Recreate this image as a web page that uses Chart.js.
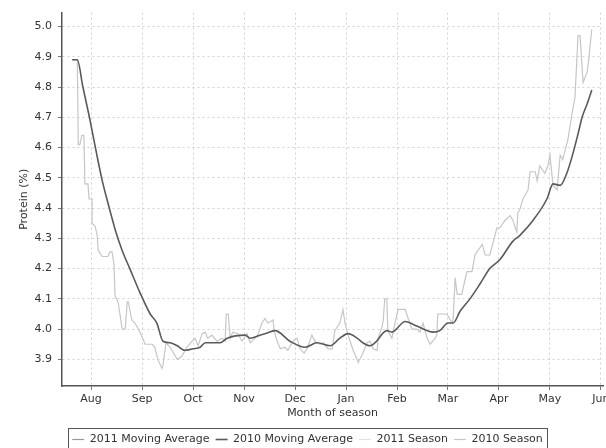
<!DOCTYPE html>
<html>
<head>
<meta charset="utf-8">
<script src="https://cdn.jsdelivr.net/npm/chart.js@4"></script>
<style>
    html, body { margin: 0; padding: 0; background: #fff; overflow: hidden; }
    #wrap { width: 620px; height: 455px; }
</style>
</head>
<body>
<div id="wrap"><canvas id="ProteinChart" width="620" height="455"></canvas></div>
<script>
// months counted from 1 Aug (Aug = 0 ... Jun = 10)
const monthLabels = ['Aug', 'Sep', 'Oct', 'Nov', 'Dec', 'Jan', 'Feb', 'Mar', 'Apr', 'May', 'Jun'];
const proteinTicks = [3.9, 4.0, 4.1, 4.2, 4.3, 4.4, 4.5, 4.6, 4.7, 4.8, 4.9, 5.0];

const avgMonths = [-0.37, -0.27, -0.16, -0.02, 0.12, 0.22, 0.31, 0.43, 0.47, 0.61, 0.76, 0.96, 1.16, 1.29, 1.41, 1.55, 1.69, 1.84, 2.00, 2.14, 2.24, 2.53, 2.67, 3.02, 3.12, 3.31, 3.41, 3.61, 3.90, 4.20, 4.43, 4.69, 4.88, 5.04, 5.22, 5.33, 5.47, 5.57, 5.80, 5.90, 6.16, 6.39, 6.71, 6.84, 7.00, 7.10, 7.24, 7.43, 7.63, 7.82, 8.02, 8.27, 8.41, 8.67, 8.94, 9.06, 9.20, 9.33, 9.45, 9.55, 9.63, 9.73, 9.82];
const avg2010 = [4.89, 4.89, 4.80, 4.69, 4.57, 4.49, 4.43, 4.355, 4.33, 4.26, 4.20, 4.12, 4.05, 4.02, 3.96, 3.955, 3.945, 3.93, 3.935, 3.94, 3.955, 3.955, 3.97, 3.98, 3.97, 3.98, 3.985, 3.995, 3.96, 3.94, 3.955, 3.945, 3.97, 3.985, 3.97, 3.955, 3.945, 3.955, 3.995, 3.99, 4.025, 4.01, 3.99, 3.995, 4.02, 4.02, 4.06, 4.10, 4.15, 4.20, 4.23, 4.29, 4.31, 4.36, 4.43, 4.48, 4.475, 4.515, 4.58, 4.645, 4.70, 4.745, 4.79];

const seasonMonths = [-0.37, -0.27, -0.25, -0.22, -0.18, -0.14, -0.12, -0.06, -0.04, 0.02, 0.02, 0.08, 0.12, 0.14, 0.22, 0.33, 0.37, 0.41, 0.45, 0.47, 0.53, 0.61, 0.67, 0.71, 0.73, 0.80, 0.86, 0.96, 1.06, 1.20, 1.25, 1.31, 1.39, 1.41, 1.47, 1.55, 1.69, 1.78, 1.88, 1.98, 2.04, 2.10, 2.18, 2.24, 2.29, 2.37, 2.47, 2.57, 2.63, 2.65, 2.69, 2.73, 2.78, 2.88, 2.96, 3.06, 3.12, 3.22, 3.27, 3.35, 3.41, 3.47, 3.57, 3.59, 3.65, 3.71, 3.80, 3.86, 3.96, 4.04, 4.10, 4.18, 4.25, 4.33, 4.39, 4.49, 4.55, 4.65, 4.73, 4.78, 4.88, 4.94, 4.98, 5.04, 5.14, 5.24, 5.33, 5.41, 5.47, 5.53, 5.61, 5.63, 5.71, 5.73, 5.76, 5.80, 5.82, 5.90, 5.96, 6.02, 6.16, 6.22, 6.29, 6.39, 6.45, 6.51, 6.59, 6.65, 6.75, 6.78, 6.80, 6.98, 7.08, 7.10, 7.14, 7.18, 7.27, 7.37, 7.47, 7.53, 7.67, 7.73, 7.82, 7.96, 8.02, 8.12, 8.22, 8.27, 8.35, 8.37, 8.41, 8.47, 8.57, 8.61, 8.71, 8.75, 8.80, 8.90, 8.96, 9.00, 9.06, 9.14, 9.20, 9.25, 9.35, 9.43, 9.49, 9.55, 9.59, 9.65, 9.73, 9.75, 9.82];
const season2010 = [4.89, 4.89, 4.61, 4.61, 4.64, 4.64, 4.48, 4.48, 4.43, 4.43, 4.35, 4.34, 4.31, 4.26, 4.24, 4.24, 4.255, 4.255, 4.215, 4.11, 4.09, 4.00, 4.00, 4.09, 4.09, 4.03, 4.02, 3.99, 3.95, 3.95, 3.94, 3.90, 3.87, 3.88, 3.955, 3.94, 3.90, 3.91, 3.94, 3.96, 3.97, 3.945, 3.985, 3.99, 3.97, 3.98, 3.96, 3.97, 3.96, 4.05, 4.05, 3.97, 3.99, 3.985, 3.96, 3.985, 3.955, 3.97, 3.98, 4.02, 4.035, 4.02, 4.03, 3.995, 3.96, 3.935, 3.94, 3.93, 3.96, 3.97, 3.935, 3.92, 3.94, 3.98, 3.96, 3.95, 3.955, 3.935, 3.935, 3.995, 4.02, 4.065, 4.02, 3.98, 3.93, 3.89, 3.92, 3.955, 3.96, 3.935, 3.93, 3.97, 4.01, 4.03, 4.10, 4.10, 3.995, 3.97, 4.02, 4.065, 4.065, 4.035, 4.00, 4.00, 3.99, 4.02, 3.97, 3.95, 3.97, 3.98, 4.05, 4.05, 4.02, 4.03, 4.17, 4.115, 4.115, 4.19, 4.19, 4.245, 4.28, 4.245, 4.245, 4.335, 4.335, 4.36, 4.375, 4.36, 4.32, 4.385, 4.395, 4.43, 4.46, 4.52, 4.52, 4.49, 4.54, 4.515, 4.54, 4.575, 4.475, 4.46, 4.575, 4.56, 4.625, 4.71, 4.765, 4.97, 4.97, 4.815, 4.85, 4.875, 4.99];

// 2011 series have no values yet, they only show in the legend
const avg2011 = [];
const season2011 = [];

const toPoints = (xs, ys) => ys.map((y, i) => ({ x: xs[i], y: y }));

Chart.defaults.font.family = "'DejaVu Sans', sans-serif";
Chart.defaults.font.size = 11;
Chart.defaults.color = '#333';

// box round the legend items
const legendBorder = {
    id: 'legendBorder',
    afterDraw(chart) {
        const lg = chart.legend;
        if (!lg || !lg.legendHitBoxes || !lg.legendHitBoxes.length) return;
        const boxes = lg.legendHitBoxes;
        const last = boxes[boxes.length - 1];
        const left = Math.round(boxes[0].left - 4);
        const right = Math.round(last.left + last.width + 4);
        const ctx = chart.ctx;
        ctx.save();
        ctx.strokeStyle = '#555';
        ctx.lineWidth = 1;
        ctx.strokeRect(left + 0.5, Math.round(lg.top) + 0.5, right - left, 40);
        ctx.restore();
    }
};

const gridStyle = { color: '#d2d2d2', tickColor: '#777', tickLength: 4 };

const ctx = document.getElementById('ProteinChart');
new Chart(ctx, {
    type: 'line',
    data: {
        datasets: [
            { label: '2011 Moving Average', data: toPoints(avgMonths, avg2011), borderColor: '#9a9a9a', borderWidth: 1.2 },
            { label: '2010 Moving Average', data: toPoints(avgMonths, avg2010), borderColor: '#5a5a5a', borderWidth: 1.6, cubicInterpolationMode: 'monotone' },
            { label: '2011 Season', data: toPoints(seasonMonths, season2011), borderColor: '#e2e2e2', borderWidth: 1.2 },
            { label: '2010 Season', data: toPoints(seasonMonths, season2010), borderColor: '#c6c6c6', borderWidth: 1.2 }
        ]
    },
    options: {
        responsive: false,
        animation: false,
        devicePixelRatio: 1,
        elements: {
            point: { radius: 0 },
            line: { tension: 0, fill: false }
        },
        layout: { padding: { left: 12, top: 7, right: 17, bottom: 0 } },
        plugins: {
            tooltip: { enabled: false },
            legend: {
                position: 'bottom',
                labels: {
                    usePointStyle: true,
                    pointStyle: 'line',
                    pointStyleWidth: 12,
                    padding: 6,
                    color: '#333',
                    font: { size: 11 }
                }
            }
        },
        scales: {
            x: {
                type: 'linear',
                min: -0.57,
                max: 10.04,
                afterBuildTicks: (s) => { s.ticks = monthLabels.map((m, i) => ({ value: i })); },
                afterFit: (s) => { s.height = 42; },
                ticks: {
                    autoSkip: false,
                    maxRotation: 0,
                    padding: 3,
                    callback: (v) => monthLabels[v]
                },
                grid: gridStyle,
                border: { color: '#555', width: 1.5, dash: [2, 3] },
                title: { display: true, text: 'Month of season', padding: { top: 0, bottom: 8 } }
            },
            y: {
                type: 'linear',
                min: 3.812,
                max: 5.046,
                afterBuildTicks: (s) => { s.ticks = proteinTicks.map((v) => ({ value: v })); },
                afterFit: (s) => { s.width = 50; },
                ticks: {
                    padding: 6,
                    callback: (v) => v.toFixed(1)
                },
                grid: gridStyle,
                border: { color: '#555', width: 1.5, dash: [2, 3] },
                title: { display: true, text: 'Protein (%)', padding: { top: 6, bottom: 0 } }
            }
        }
    },
    plugins: [legendBorder]
});
</script>
</body>
</html>
